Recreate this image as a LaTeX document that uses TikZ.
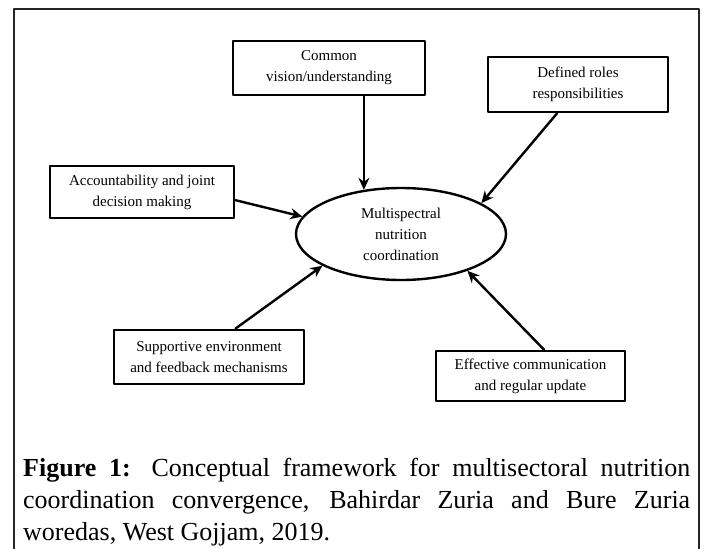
\documentclass[tikz,border=0pt]{standalone}
\usepackage{fontspec}
\setmainfont{Liberation Serif}
\usepackage{tikz}
\usetikzlibrary{arrows.meta,positioning,shapes.geometric,calc}

\begin{document}
\begin{tikzpicture}[
			x=1pt,
			y=-1pt,
			line cap=round,
			line join=round,
			factor/.style={draw,line width=2.8pt,align=center,inner sep=0pt,
				font=\fontsize{15}{21}\selectfont},
			hubnode/.style={draw,ellipse,line width=2.4pt,minimum width=210pt,minimum height=92pt,
				inner sep=0pt,align=center,font=\fontsize{15}{21}\selectfont},
			arr/.style={line width=2.4pt,-{Stealth[length=12pt,width=11pt,inset=4pt]}},
			frame/.style={line width=2pt,black!85}
			]
			
			\useasboundingbox (0,0) rectangle (705,549);
			
			% outer frame of the figure (open at the bottom)
			\draw[frame] (14,552) |- (699,9) -- (699,552);
			
			%------------------------------
			% The centre and the factors
			%------------------------------
			\node[hubnode] (hub) at (401,234) {Multispectral\\nutrition\\coordination};
			
			\node[factor,minimum width=192pt,minimum height=54pt] (common) at (329,68)
				{Common\\vision/understanding};
			\node[factor,minimum width=180pt,minimum height=55pt] (roles) at (578,84.5)
				{Defined roles\\responsibilities};
			\node[factor,minimum width=184pt,minimum height=52pt] (account) at (142,192)
				{Accountability and joint\\decision making};
			\node[factor,minimum width=190pt,minimum height=54pt] (support) at (209,357)
				{Supportive environment\\and feedback mechanisms};
			\node[factor,minimum width=189pt,minimum height=50pt] (commun) at (530.5,376)
				{Effective communication\\and regular update};
			
			%------------------------------
			% Arrows into the centre
			%------------------------------
			\draw[arr] (common.south -| hub.130) -- (hub.130);
			
			\foreach \src/\out/\in in {roles/234/21.7, account/355.6/170.7,
				support/47.2/202.2, commun/63.4/331.7}{
				\draw[arr] (\src.\out) -- (hub.\in);
			}
			
			%------------------------------
			% Caption
			%------------------------------
			\node[anchor=base west,inner sep=0pt] (caption) at (23,476)
				{\parbox[t]{667pt}{\fontsize{26}{32}\selectfont\tolerance=10000
					\textbf{Figure 1:} Conceptual framework for multisectoral nutrition\linebreak
					coordination convergence, Bahirdar Zuria and Bure Zuria\linebreak
					woredas, West Gojjam, 2019.}};
		\end{tikzpicture}
\end{document}
